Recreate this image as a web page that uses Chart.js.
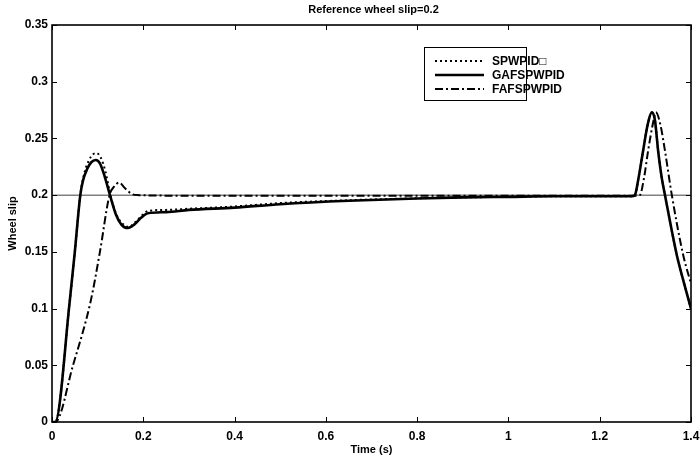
<!DOCTYPE html>
<html>
<head>
<meta charset="utf-8">
<script src="https://cdn.jsdelivr.net/npm/chart.js@4.4.1/dist/chart.umd.min.js"></script>
<style>
  html, body { margin:0; padding:0; background:#fff; }
  canvas { display:block; }
</style>
</head>
<body>
<canvas id="c" width="700" height="461"></canvas>
<script>
// values
const spwTime = [0, 0.007, 0.039, 0.05, 0.062, 0.07, 0.08, 0.09, 0.098, 0.107, 0.117, 0.128, 0.14, 0.152, 0.168, 0.182, 0.197, 0.21, 0.25, 0.3, 0.4, 0.5, 0.65, 0.8, 0.9, 1.0, 1.1, 1.2, 1.27, 1.277, 1.285, 1.295, 1.305, 1.314, 1.321, 1.328, 1.336, 1.343, 1.369, 1.385, 1.4];
const spwSlip = [0, 0, 0.107, 0.15, 0.2, 0.218, 0.23, 0.236, 0.237, 0.233, 0.221, 0.2, 0.184, 0.176, 0.172, 0.176, 0.182, 0.186, 0.187, 0.188, 0.19, 0.193, 0.1955, 0.1972, 0.198, 0.1985, 0.199, 0.199, 0.199, 0.2, 0.215, 0.239, 0.262, 0.273, 0.266, 0.239, 0.215, 0.2, 0.147, 0.122, 0.1];

const gaTime = [0, 0.007, 0.039, 0.05, 0.062, 0.068, 0.077, 0.086, 0.096, 0.105, 0.115, 0.127, 0.14, 0.152, 0.166, 0.18, 0.195, 0.21, 0.25, 0.3, 0.4, 0.5, 0.65, 0.8, 0.9, 1.0, 1.1, 1.2, 1.27, 1.277, 1.285, 1.295, 1.305, 1.314, 1.321, 1.328, 1.336, 1.343, 1.369, 1.385, 1.4];
const gaSlip = [0, 0, 0.107, 0.15, 0.2, 0.213, 0.223, 0.229, 0.231, 0.228, 0.217, 0.2, 0.183, 0.174, 0.171, 0.174, 0.18, 0.184, 0.185, 0.187, 0.189, 0.192, 0.195, 0.197, 0.198, 0.1985, 0.199, 0.199, 0.199, 0.2, 0.215, 0.239, 0.262, 0.273, 0.266, 0.239, 0.215, 0.2, 0.147, 0.122, 0.1];

const faTime = [0, 0.007, 0.046, 0.085, 0.105, 0.126, 0.135, 0.147, 0.16, 0.175, 0.19, 0.3, 0.5, 0.7, 0.9, 1.1, 1.28, 1.288, 1.297, 1.306, 1.316, 1.323, 1.333, 1.343, 1.358, 1.383, 1.4];
const faSlip = [0, 0, 0.05, 0.107, 0.15, 0.2, 0.207, 0.211, 0.206, 0.201, 0.2, 0.1995, 0.1995, 0.1995, 0.1995, 0.1995, 0.1995, 0.2, 0.215, 0.239, 0.262, 0.273, 0.262, 0.239, 0.2, 0.147, 0.122];

const refTime = [0, 1.4];
const refSlip = [0.2, 0.2];

const xTicks = [0, 0.2, 0.4, 0.6, 0.8, 1, 1.2, 1.4];
const yTicks = [0, 0.05, 0.1, 0.15, 0.2, 0.25, 0.3, 0.35];

const seriesNames = ["SPWPID\u25A1", "GAFSPWPID", "FAFSPWPID"];

function pts(xs, ys){
  return xs.map((x, i) => ({x, y: ys[i]}));
}

const FONT = "'Liberation Sans', Arial, sans-serif";

// MATLAB style box with inward ticks, title and legend
const matlabBox = {
  id: "matlabBox",
  afterDraw(chart){
    const {ctx, chartArea: a, scales} = chart;
    ctx.save();
    ctx.strokeStyle = "#000";
    ctx.lineWidth = 1;
    const tl = 5;
    ctx.beginPath();
    for(const v of xTicks){
      const px = Math.round(scales.x.getPixelForValue(v)) + 0.5;
      ctx.moveTo(px, a.bottom); ctx.lineTo(px, a.bottom - tl);
      ctx.moveTo(px, a.top); ctx.lineTo(px, a.top + tl);
    }
    for(const v of yTicks){
      const py = Math.round(scales.y.getPixelForValue(v)) + 0.5;
      ctx.moveTo(a.left, py); ctx.lineTo(a.left + tl, py);
      ctx.moveTo(a.right, py); ctx.lineTo(a.right - tl, py);
    }
    ctx.stroke();
    ctx.lineWidth = 1.6;
    ctx.strokeRect(a.left, a.top, a.right - a.left, a.bottom - a.top);

    // title over the axes
    ctx.fillStyle = "#000";
    ctx.font = "bold 11px " + FONT;
    ctx.textAlign = "center";
    ctx.textBaseline = "middle";
    ctx.fillText("Reference wheel slip=0.2", (a.left + a.right) / 2 + 2, 10);

    // legend
    const lx = 424, ly = 47, lw = 102, lh = 53;
    ctx.fillStyle = "#fff";
    ctx.fillRect(lx, ly, lw, lh);
    ctx.lineWidth = 1;
    ctx.strokeRect(lx + 0.5, ly + 0.5, lw, lh);
    const rows = [61, 75, 89];
    ctx.font = "bold 12px " + FONT;
    ctx.textAlign = "left";
    for(let i = 0; i < 3; i++){
      const ds = chart.data.datasets[i];
      ctx.strokeStyle = "#000";
      ctx.lineWidth = ds.borderWidth;
      ctx.setLineDash(ds.borderDash || []);
      ctx.beginPath();
      ctx.moveTo(435, rows[i]); ctx.lineTo(484, rows[i]);
      ctx.stroke();
      ctx.setLineDash([]);
      ctx.fillStyle = "#000";
      ctx.fillText(seriesNames[i], 492, rows[i] + 1);
    }
    ctx.restore();
  }
};

new Chart(document.getElementById("c"), {
  type: "line",
  data: {
    datasets: [
      { label: seriesNames[0], data: pts(spwTime, spwSlip), borderColor: "#000", borderWidth: 2, borderDash: [2, 3], pointRadius: 0, cubicInterpolationMode: "monotone" },
      { label: seriesNames[1], data: pts(gaTime, gaSlip), borderColor: "#000", borderWidth: 2.6, pointRadius: 0, cubicInterpolationMode: "monotone" },
      { label: seriesNames[2], data: pts(faTime, faSlip), borderColor: "#000", borderWidth: 2, borderDash: [8, 3, 2, 3], pointRadius: 0, cubicInterpolationMode: "monotone" },
      { label: "ref", data: pts(refTime, refSlip), borderColor: "#808080", borderWidth: 1.5, pointRadius: 0 }
    ]
  },
  options: {
    responsive: false,
    animation: false,
    layout: { padding: { top: 25, right: 9, left: 0, bottom: 0 } },
    plugins: {
      legend: { display: false },
      title: { display: false },
      tooltip: { enabled: false }
    },
    scales: {
      x: {
        type: "linear",
        min: 0, max: 1.4,
        afterBuildTicks: s => { s.ticks = xTicks.map(v => ({value: v})); },
        afterFit: s => { s.height = 39; s.paddingLeft = 0; s.paddingRight = 0; },
        grid: { display: false, drawTicks: false },
        border: { display: false },
        ticks: { color: "#000", font: { family: FONT, size: 12, weight: "bold" }, padding: 7, maxRotation: 0,
                 callback: v => String(v) },
        title: { display: true, text: "Time (s)", color: "#000", font: { family: FONT, size: 11, weight: "bold" }, padding: { top: 0, bottom: 4 } }
      },
      y: {
        min: 0, max: 0.35,
        afterBuildTicks: s => { s.ticks = yTicks.map(v => ({value: v})); },
        afterFit: s => { s.width = 52; s.paddingTop = 0; s.paddingBottom = 0; },
        grid: { display: false, drawTicks: false },
        border: { display: false },
        ticks: { color: "#000", font: { family: FONT, size: 12, weight: "bold" }, padding: 4,
                 callback: v => String(v) },
        title: { display: true, text: "Wheel slip", color: "#000", font: { family: FONT, size: 11, weight: "bold" }, padding: { top: 6, bottom: 0 } }
      }
    }
  },
  plugins: [matlabBox]
});
</script>
</body>
</html>
